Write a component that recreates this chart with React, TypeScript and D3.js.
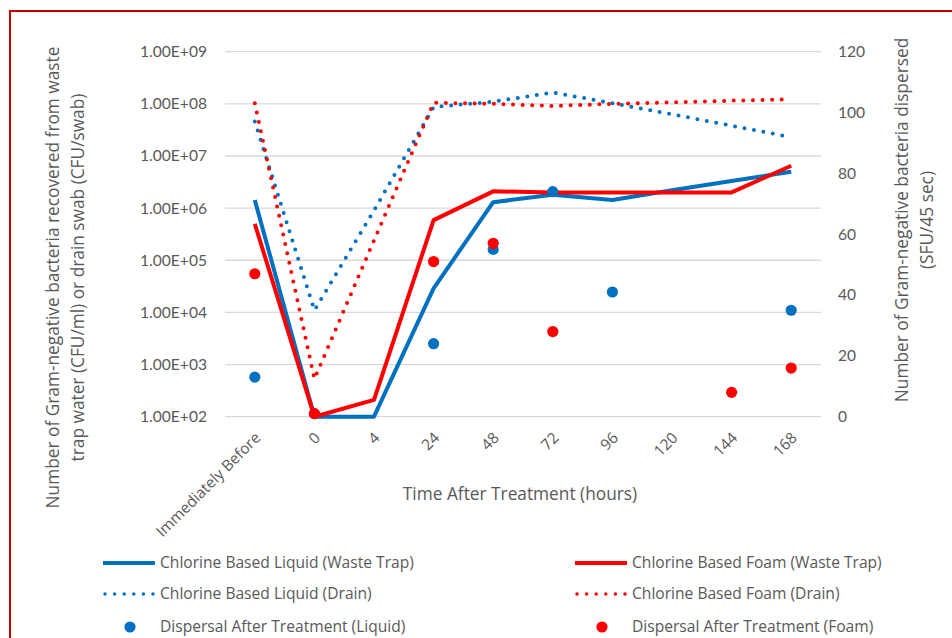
import React from "react";
import * as d3 from "d3";

const categories = ["Immediately Before", "0", "4", "24", "48", "72", "96", "120", "144", "168"];
const liquidWasteTrap = [1.43e6, 100, 100, 2.9e4, 1.3e6, 1.8e6, 1.43e6, 2.2e6, 3.3e6, 5.0e6];
const foamWasteTrap = [5.0e5, 100, 210, 5.9e5, 2.1e6, 2.0e6, 2.0e6, 2.0e6, 2.0e6, 6.5e6];
const liquidDrain = [4.6e7, 1.1e4, 9.0e5, 8.7e7, 1.1e8, 1.65e8, 1.03e8, 6.3e7, 3.8e7, 2.3e7];
const foamDrain = [1.03e8, 5.3e2, 2.4e5, 1.05e8, 1.0e8, 9.1e7, 1.0e8, 1.07e8, 1.15e8, 1.23e8];
const dispersalLiquid: (number | null)[] = [13, 1, null, 24, 55, 74, 41, null, null, 35];
const dispersalFoam: (number | null)[] = [47, 1, null, 51, 57, 28, null, null, 8, 16];
const leftTicks = [1e2, 1e3, 1e4, 1e5, 1e6, 1e7, 1e8, 1e9];
const rightTicks = [0, 20, 40, 60, 80, 100, 120];

const BLUE = "#0070C0";
const RED = "#FF0000";
const GREY = "#595959";
const FONT = "'Open Sans', Lato, sans-serif";
const TICKFONT = "Lato, 'Open Sans', sans-serif";

export default function App() {
  const W = 952, H = 638;
  const left = 225, right = 821, top = 51.7, bottom = 416.7;
  const x = d3.scaleBand<string>().domain(categories).range([left, right]);
  const cx = (c: string) => (x(c) as number) + x.bandwidth() / 2;
  const yL = d3.scaleLog().domain([1e2, 1e9]).range([bottom, top]);
  const yR = d3.scaleLinear().domain([0, 120]).range([bottom, top]);
  const line = d3
    .line<number>()
    .x((_, i) => cx(categories[i]))
    .y((d) => yL(d));

  const fmt = (v: number) => {
    const e = Math.round(Math.log10(v));
    return `1.00E+${String(e).padStart(2, "0")}`;
  };

  const legend = [
    { label: "Chlorine Based Liquid (Waste Trap)", color: BLUE, kind: "solid", lx: 103, ly: 563 },
    { label: "Chlorine Based Foam (Waste Trap)", color: RED, kind: "solid", lx: 575, ly: 563 },
    { label: "Chlorine Based Liquid (Drain)", color: BLUE, kind: "dot", lx: 103, ly: 594 },
    { label: "Chlorine Based Foam (Drain)", color: RED, kind: "dot", lx: 575, ly: 594 },
    { label: "Dispersal After Treatment (Liquid)", color: BLUE, kind: "marker", lx: 103, ly: 627 },
    { label: "Dispersal After Treatment (Foam)", color: RED, kind: "marker", lx: 575, ly: 627 },
  ];

  return (
    <svg
      width={W}
      height={H}
      style={{ position: "absolute", left: 0, top: 0, background: "#fff" }}
      fontFamily={FONT}
    >
      <rect x={10} y={11} width={W + 20} height={H + 20} fill="#fff" stroke="#C00000" strokeWidth={2} />
      {/* gridlines */}
      {leftTicks.map((t) => (
        <line key={t} x1={left} x2={right} y1={yL(t)} y2={yL(t)} stroke="#D9D9D9" strokeWidth={1.3} />
      ))}
      {/* left tick labels */}
      {leftTicks.map((t) => (
        <text key={"l" + t} x={207} y={yL(t)} dy="0.35em" textAnchor="end" fontSize={15.6} fill={GREY} fontFamily={TICKFONT}>
          {fmt(t)}
        </text>
      ))}
      {/* right tick labels */}
      {rightTicks.map((t) => (
        <text key={"r" + t} x={838} y={yR(t)} dy="0.35em" textAnchor="start" fontSize={15.6} fill={GREY} fontFamily={TICKFONT}>
          {t}
        </text>
      ))}
      {/* x tick labels */}
      {categories.map((c) => (
        <text
          key={"x" + c}
          transform={`translate(${cx(c) + 3},${435}) rotate(-45)`}
          dy="0.35em"
          textAnchor="end"
          fontSize={15.3}
          fill={GREY}
        >
          {c}
        </text>
      ))}
      {/* axis titles */}
      <text x={520} y={500} textAnchor="middle" fontSize={17.3} fill={GREY}>
        Time After Treatment (hours)
      </text>
      <g transform="translate(53,277.5) rotate(-90)">
        <text x={0} y={0} dy="0.35em" textAnchor="middle" fontSize={17.3} fill={GREY}>
          Number of Gram-negative  bacteria recovered  from waste
        </text>
      </g>
      <g transform="translate(78,277.5) rotate(-90)">
        <text x={0} y={0} dy="0.35em" textAnchor="middle" fontSize={17.3} fill={GREY}>
          trap water (CFU/ml) or drain swab (CFU/swab)
        </text>
      </g>
      <g transform="translate(901.7,220) rotate(-90)">
        <text x={0} y={0} dy="0.35em" textAnchor="middle" fontSize={17.3} fill={GREY}>
          Number of Gram-negative  bacteria dispersed
        </text>
      </g>
      <g transform="translate(926.7,220) rotate(-90)">
        <text x={0} y={0} dy="0.35em" textAnchor="middle" fontSize={17.3} fill={GREY}>
          (SFU/45 sec)
        </text>
      </g>
      {/* lines */}
      <path d={line(liquidWasteTrap) || ""} fill="none" stroke={BLUE} strokeWidth={4} strokeLinejoin="round" />
      <path d={line(foamWasteTrap) || ""} fill="none" stroke={RED} strokeWidth={4} strokeLinejoin="round" />
      <path
        d={line(liquidDrain) || ""}
        fill="none"
        stroke={BLUE}
        strokeWidth={4}
        strokeLinecap="round"
        strokeDasharray="0 9.6"
      />
      <path
        d={line(foamDrain) || ""}
        fill="none"
        stroke={RED}
        strokeWidth={4}
        strokeLinecap="round"
        strokeDasharray="0 9.6"
      />
      {/* dispersal markers */}
      {dispersalLiquid.map((v, i) =>
        v == null ? null : <circle key={"dl" + i} cx={cx(categories[i])} cy={yR(v)} r={5.6} fill={BLUE} />
      )}
      {dispersalFoam.map((v, i) =>
        v == null ? null : <circle key={"df" + i} cx={cx(categories[i])} cy={yR(v)} r={5.6} fill={RED} />
      )}
      {/* legend */}
      {legend.map((l) => (
        <g key={l.label}>
          {l.kind === "solid" && (
            <line x1={l.lx} x2={l.lx + 52} y1={l.ly} y2={l.ly} stroke={l.color} strokeWidth={4} />
          )}
          {l.kind === "dot" && (
            <line
              x1={l.lx + 2}
              x2={l.lx + 52}
              y1={l.ly}
              y2={l.ly}
              stroke={l.color}
              strokeWidth={3.5}
              strokeLinecap="round"
              strokeDasharray="0 9.6"
            />
          )}
          {l.kind === "marker" && <circle cx={l.lx + 27} cy={l.ly} r={5.6} fill={l.color} />}
          <text x={l.lx + 57} y={l.ly} dy="0.35em" fontSize={15.6} fill={GREY}>
            {l.label}
          </text>
        </g>
      ))}
    </svg>
  );
}
